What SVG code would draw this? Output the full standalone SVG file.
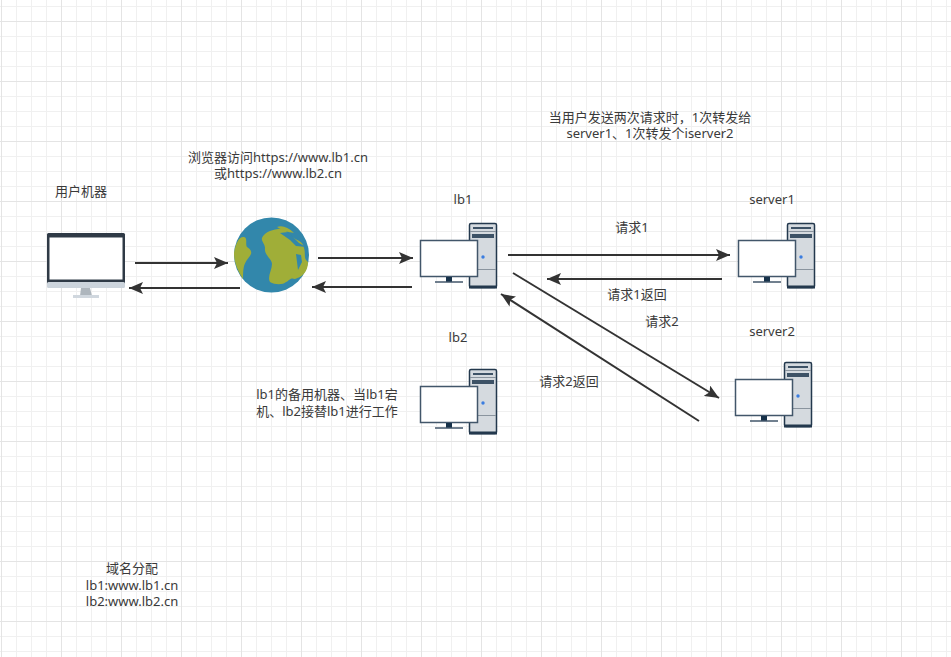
<svg xmlns="http://www.w3.org/2000/svg" width="951" height="657" viewBox="0 0 951 657">
<style>
text{font-family:"Noto Sans","Noto Sans CJK SC",sans-serif;font-size:13px;fill:#3a3a3a;text-anchor:middle}
.c{fill:none;stroke:#333;stroke-width:2}
</style>
<defs>
<pattern id="minor" width="15" height="15" patternUnits="userSpaceOnUse" x="1" y="6"><path d="M.5 0V15M0 .5H15" fill="none" stroke="#f0f0f0"/></pattern>
<pattern id="major" width="60" height="60" patternUnits="userSpaceOnUse" x="1" y="21"><path d="M.5 0V60M0 .5H60" fill="none" stroke="#e4e4e4"/></pattern>
<marker id="a" markerUnits="userSpaceOnUse" markerWidth="15" markerHeight="12" refX="14" refY="6" orient="auto"><path d="M0 0L14 6L0 12L3 6Z" fill="#333"/></marker>
<g id="srv">
<rect x="469.500" y="223.500" width="27" height="64" rx="1.500" fill="#d5dadf" stroke="#23384d" stroke-width="1.500"/>
<rect x="469" y="285.500" width="28" height="3" fill="#23384d"/>
<path d="M470 231.500H496M470 269.500H496" stroke="#8a949e" fill="none"/>
<path d="M473 228H493" stroke="#3d5266" stroke-width="2"/>
<rect x="472" y="234" width="22" height="4" fill="#3d5266"/>
<circle cx="483" cy="257" r="1.700" fill="#3b7de0"/>
<rect x="420.500" y="240.500" width="57" height="36" fill="#fff" stroke="#42566a" stroke-width="1.500"/>
<rect x="446" y="277" width="6" height="5" fill="#17324a"/>
<path d="M435 282H463" stroke="#42566a" stroke-width="1.500"/>
</g>
</defs>
<rect width="951" height="657" fill="#fff"/>
<rect width="951" height="657" fill="url(#minor)"/>
<rect width="951" height="657" fill="url(#major)"/>
<g id="connectors">
<path class="c" d="M135 263H228" marker-end="url(#a)"/>
<path class="c" d="M240 288H129" marker-end="url(#a)"/>
<path class="c" d="M318 258H413" marker-end="url(#a)"/>
<path class="c" d="M412 287H312" marker-end="url(#a)"/>
<path class="c" d="M508 255H730" marker-end="url(#a)"/>
<path class="c" d="M722 279H547" marker-end="url(#a)"/>
<path class="c" d="M513 273L719 398" marker-end="url(#a)"/>
<path class="c" d="M699 421L501 294" marker-end="url(#a)"/>
</g>
<g id="user-machine">
<rect x="47" y="233" width="78" height="54" rx="1.500" fill="#2f3a46"/>
<rect x="47" y="282" width="78" height="6" rx="1.500" fill="#ccd4dc"/>
<rect x="49.500" y="237.500" width="73" height="42" fill="#fff"/>
<path d="M81 288H90L92 296H80Z" fill="#aeb6bd"/>
<rect x="73" y="295" width="26" height="3" fill="#d0d7de"/>
<text x="81" y="196">用户机器</text>
</g>
<g id="internet">
<circle cx="271.500" cy="255" r="37.500" fill="#3287ab"/>
<path d="M234 253C236 241 240 236 244 237C248 238 245 244 247 247C250 249 252 251 251 254C249 258 246 260 244 266C243 270 243 275 243 279C238 271 234 263 234 253Z" fill="#a0ae38"/>
<path d="M262 238C264 233 270 230 278 229C284 228 287 232 290 235C296 241 303 240 304 248C306 254 303 258 308 262C308 272 302 277 295 279C290 277 289 281 286 282C283 285 275 285 270 282C267 277 272 270 272 264C272 259 264 255 265 248C265 244 261 241 262 238Z" fill="#a0ae38"/>
<path d="M277 227C282 225 288 227 294 233C288 232 283 231 277 227Z" fill="#a0ae38"/>
<path d="M280 233L288 232L299 243L306 247L296 246L290 240Z" fill="#3287ab"/>
<path d="M296 254L298 270L302 262L301 255Z" fill="#3287ab"/>
</g>
<g id="lb1"><use href="#srv"/><text x="463" y="204">lb1</text></g>
<g id="lb2"><use href="#srv" y="146"/><text x="458" y="342">lb2</text></g>
<g id="server1"><use href="#srv" x="318"/><text x="772" y="204">server1</text></g>
<g id="server2"><use href="#srv" x="315" y="139"/><text x="772" y="336">server2</text></g>
<g id="labels">
<text x="278" y="162">浏览器访问https://www.lb1.cn</text>
<text x="278" y="178">或https://www.lb2.cn</text>
<text x="650" y="122">当用户发送两次请求时，1次转发给</text>
<text x="650" y="138">server1、1次转发个iserver2</text>
<text x="632" y="232">请求1</text>
<text x="637" y="299">请求1返回</text>
<text x="662" y="326">请求2</text>
<text x="569" y="386">请求2返回</text>
<text x="327" y="399">lb1的备用机器、当lb1宕</text>
<text x="327" y="416">机、lb2接替lb1进行工作</text>
<text x="132" y="573">域名分配</text>
<text x="132" y="590">lb1:www.lb1.cn</text>
<text x="132" y="606">lb2:www.lb2.cn</text>
</g>
</svg>
